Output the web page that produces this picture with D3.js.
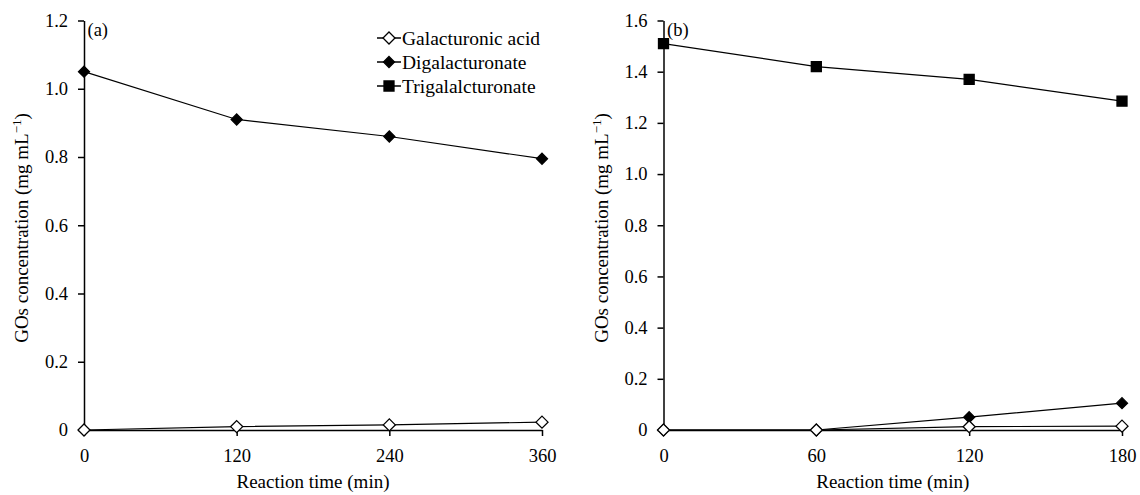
<!DOCTYPE html>
<html>
<head>
<meta charset="utf-8">
<script src="https://cdn.jsdelivr.net/npm/d3@7"></script>
<style>
  body { margin: 0; background: #fff; }
  .axis path, .axis line { stroke: #000; stroke-width: 1.5; }
</style>
</head>
<body>
<div id="chart"></div>
<script>
// panel (a) data
var timeA = [0, 120, 240, 360];
var galacA = [0, 0.01, 0.015, 0.023];
var digalA = [1.05, 0.91, 0.86, 0.795];

// panel (b) data
var timeB = [0, 60, 120, 180];
var galacB = [0, 0, 0.013, 0.015];
var digalB = [0, 0, 0.05, 0.105];
var trigalB = [1.51, 1.42, 1.37, 1.285];

var yTicksA = [0, 0.2, 0.4, 0.6, 0.8, 1.0, 1.2];
var yTicksB = [0, 0.2, 0.4, 0.6, 0.8, 1.0, 1.2, 1.4, 1.6];

var legendNames = ["Galacturonic acid", "Digalacturonate", "Trigalalcturonate"];

var FONT = "'Liberation Serif', 'DejaVu Serif', serif";

var svg = d3.select("#chart").append("svg")
    .attr("width", 1140)
    .attr("height", 495)
    .attr("font-family", FONT);

// square-ish diamond and square markers
function diamondPath(r) {
    return "M0," + (-r) + "L" + r + ",0L0," + r + "L" + (-r) + ",0Z";
}
function squarePath(r) {
    return "M" + (-r) + "," + (-r) + "H" + r + "V" + r + "H" + (-r) + "Z";
}

var styles = {
    galac: { d: diamondPath(6), fill: "#fff" },
    digal: { d: diamondPath(5.5), fill: "#000" },
    trigal: { d: squarePath(5), fill: "#000" }
};

function drawPanel(opt) {
    var g = svg.append("g");

    var x = d3.scaleLinear().domain([0, d3.max(opt.time)]).range([opt.left, opt.right]);
    var y = d3.scaleLinear().domain([0, d3.max(opt.yTicks)]).range([430, 20.5]);

    var fmt = function(d) { return d === 0 ? "0" : d3.format(".1f")(d); };

    g.append("g")
        .attr("class", "axis")
        .attr("transform", "translate(0,430)")
        .call(d3.axisBottom(x).tickValues(opt.time).tickSize(6).tickSizeOuter(0).tickPadding(13));

    g.append("g")
        .attr("class", "axis")
        .attr("transform", "translate(" + opt.left + ",0)")
        .call(d3.axisLeft(y).tickValues(opt.yTicks).tickFormat(fmt).tickSize(6).tickSizeOuter(0).tickPadding(10));

    g.selectAll(".axis")
        .attr("font-family", FONT)
        .attr("font-size", 18.5);
    g.selectAll(".axis text").attr("fill", "#000");

    var line = d3.line()
        .x(function(d, i) { return x(opt.time[i]); })
        .y(function(d) { return y(d); });

    opt.series.forEach(function(s) {
        g.append("path")
            .datum(s.values)
            .attr("fill", "none")
            .attr("stroke", "#000")
            .attr("stroke-width", 1.2)
            .attr("d", line);
    });

    opt.series.forEach(function(s) {
        var st = styles[s.key];
        g.selectAll(null)
            .data(s.values)
            .enter().append("path")
            .attr("d", st.d)
            .attr("transform", function(d, i) { return "translate(" + x(opt.time[i]) + "," + y(d) + ")"; })
            .attr("fill", st.fill)
            .attr("stroke", "#000")
            .attr("stroke-width", 1.3);
    });

    g.append("text")
        .attr("x", opt.left + 3.5)
        .attr("y", 36)
        .attr("font-size", 18.5)
        .text(opt.tag);

    g.append("text")
        .attr("x", (opt.left + opt.right) / 2)
        .attr("y", 488)
        .attr("text-anchor", "middle")
        .attr("font-size", 19)
        .text("Reaction time (min)");

    var yl = g.append("text")
        .attr("transform", "translate(" + (opt.left - 56) + ",228) rotate(-90)")
        .attr("text-anchor", "middle")
        .attr("font-size", 19);
    yl.append("tspan").text("GOs concentration (mg mL");
    yl.append("tspan").attr("dy", -7).attr("font-size", 13).text("\u22121");
    yl.append("tspan").attr("dy", 7).text(")");

    return g;
}

drawPanel({
    left: 84, right: 542, time: timeA, yTicks: yTicksA, tag: "(a)",
    series: [
        { key: "digal", values: digalA },
        { key: "galac", values: galacA }
    ]
});

drawPanel({
    left: 663.5, right: 1122, time: timeB, yTicks: yTicksB, tag: "(b)",
    series: [
        { key: "trigal", values: trigalB },
        { key: "digal", values: digalB },
        { key: "galac", values: galacB }
    ]
});

// legend
var legend = svg.append("g").attr("transform", "translate(377,0)");
var legendKeys = ["galac", "digal", "trigal"];
var legendY = [38, 62, 86];

legendNames.forEach(function(name, i) {
    var row = legend.append("g").attr("transform", "translate(0," + legendY[i] + ")");
    row.append("line").attr("x1", 0).attr("x2", 24).attr("stroke", "#000").attr("stroke-width", 1.5);
    row.append("path")
        .attr("d", styles[legendKeys[i]].d)
        .attr("transform", "translate(12,0)")
        .attr("fill", styles[legendKeys[i]].fill)
        .attr("stroke", "#000")
        .attr("stroke-width", 1.3);
    row.append("text")
        .attr("x", 25)
        .attr("y", 7)
        .attr("font-size", 19.5)
        .text(name);
});
</script>
</body>
</html>
